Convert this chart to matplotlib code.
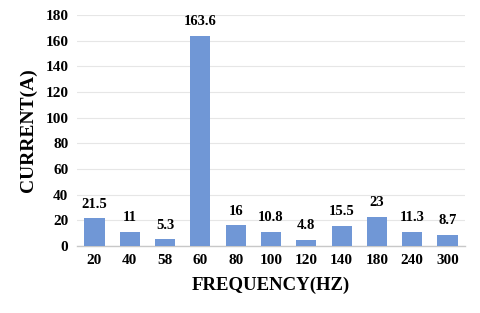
import matplotlib
matplotlib.use("Agg")
import matplotlib.pyplot as plt

categories = ["20", "40", "58", "60", "80", "100", "120", "140", "180", "240", "300"]
values = [21.5, 11, 5.3, 163.6, 16, 10.8, 4.8, 15.5, 23, 11.3, 8.7]
labels = ["21.5", "11", "5.3", "163.6", "16", "10.8", "4.8", "15.5", "23", "11.3", "8.7"]

plt.rcParams['font.family'] = ['Liberation Serif', 'DejaVu Serif']
plt.rcParams['font.weight'] = 'bold'

fig = plt.figure(figsize=(4.8, 3.13), dpi=100)
ax = fig.add_axes([0.16, 0.214, 0.809, 0.738])
x = range(len(categories))
bars = ax.bar(x, values, width=0.57, color='#7097d6', zorder=3)
for xi, v, lab in zip(x, values, labels):
    ax.text(xi, v + 6, lab, ha='center', va='bottom', fontsize=10.5, fontweight='bold')
ax.set_xlim(-0.5, len(categories) - 0.5)
ax.set_ylim(0, 180)
ax.set_yticks(range(0, 181, 20))
ax.set_xticks(list(x))
ax.set_xticklabels(categories)
ax.tick_params(axis='both', length=0, labelsize=11, pad=6)
for lab in ax.get_xticklabels() + ax.get_yticklabels():
    lab.set_fontweight('bold')
ax.yaxis.grid(True, color='#e6e6e6', linewidth=0.8, zorder=0)
for s in ['top', 'right', 'left']:
    ax.spines[s].set_visible(False)
ax.spines['bottom'].set_color('#c8c8c8')
ax.spines['bottom'].set_linewidth(1.0)
ax.set_xlabel('FREQUENCY(HZ)', fontsize=13.5, fontweight='bold', labelpad=7)
ax.set_ylabel('CURRENT(A)', fontsize=14, fontweight='bold', labelpad=6)
fig.savefig('out.png', dpi=100, facecolor='white')
